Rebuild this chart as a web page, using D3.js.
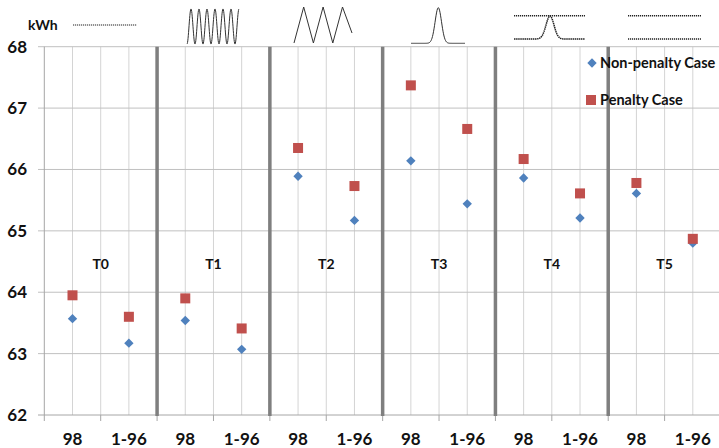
<!DOCTYPE html>
<html>
<head>
<meta charset="utf-8">
<script src="https://cdn.jsdelivr.net/npm/d3@7"></script>
<style>
  body { margin: 0; background: #fff; }
  svg { display: block; font-family: Lato, "Open Sans", sans-serif; }
</style>
</head>
<body>
<svg id="chart" width="719" height="448"></svg>
<script>
// data
const groups = ["T0", "T1", "T2", "T3", "T4", "T5"]
const cases = ["98", "1-96"]
const nonPenalty = [63.57, 63.17, 63.54, 63.07, 65.89, 65.17, 66.14, 65.44, 65.86, 65.21, 65.61, 64.80]
const penalty = [63.95, 63.60, 63.90, 63.41, 66.35, 65.73, 67.37, 66.66, 66.17, 65.61, 65.78, 64.87]
const yTicks = [62, 63, 64, 65, 66, 67, 68]
const seriesNames = ["Non-penalty Case", "Penalty Case"]

const blue = "#4F81BD"
const red = "#C0504D"

const svg = d3.select("#chart")
svg.append("rect").attr("width", 719).attr("height", 448).attr("fill", "#fff")

// one key per category (group + case)
const keys = []
groups.forEach(g => cases.forEach(c => keys.push(g + "|" + c)))

const x = d3.scaleBand().domain(keys).range([44.3, 721]).padding(0)
const y = d3.scaleLinear().domain([62, 68]).range([415, 46.7])
const bw = x.bandwidth()

// vertical light gridlines (band edges + centres)
const vLines = []
keys.forEach(k => { vLines.push(x(k)); vLines.push(x(k) + bw / 2) })
svg.append("g").selectAll("line")
  .data(vLines.slice(1))
  .enter()
  .append("line")
  .attr("x1", d => d).attr("x2", d => d)
  .attr("y1", y(68)).attr("y2", y(62))
  .attr("stroke", "#d4d4d4")
  .attr("stroke-width", 1)

// horizontal gridlines
svg.append("g").selectAll("line")
  .data(yTicks)
  .enter()
  .append("line")
  .attr("x1", 38).attr("x2", 721)
  .attr("y1", d => y(d)).attr("y2", d => y(d))
  .attr("stroke", d => d === 62 ? "#a6a6a6" : "#c0c0c0")
  .attr("stroke-width", 1)

// y axis line
svg.append("line")
  .attr("x1", 44.3).attr("x2", 44.3)
  .attr("y1", y(68)).attr("y2", y(62))
  .attr("stroke", "#a6a6a6")

// x ticks at category edges
svg.append("g").selectAll("line")
  .data(keys)
  .enter()
  .append("line")
  .attr("x1", d => x(d)).attr("x2", d => x(d))
  .attr("y1", y(62)).attr("y2", y(62) + 6)
  .attr("stroke", "#a6a6a6")

// thick separators between groups
svg.append("g").selectAll("line")
  .data(groups.slice(1))
  .enter()
  .append("line")
  .attr("x1", d => x(d + "|" + cases[0])).attr("x2", d => x(d + "|" + cases[0]))
  .attr("y1", y(68)).attr("y2", y(62) + 1)
  .attr("stroke", "#7f7f7f")
  .attr("stroke-width", 3.5)

// y labels
svg.append("g").selectAll("text")
  .data(yTicks)
  .enter()
  .append("text")
  .attr("x", 27)
  .attr("y", d => y(d) + 6)
  .attr("text-anchor", "end")
  .attr("font-size", 17)
  .attr("font-weight", "bold")
  .attr("fill", "#111")
  .text(d => d)

// x labels
svg.append("g").selectAll("text")
  .data(keys)
  .enter()
  .append("text")
  .attr("x", d => x(d) + bw / 2)
  .attr("y", 445)
  .attr("text-anchor", "middle")
  .attr("font-size", 17)
  .attr("font-weight", "bold")
  .attr("fill", "#111")
  .text(d => d.split("|")[1])

// group labels
svg.append("g").selectAll("text")
  .data(groups)
  .enter()
  .append("text")
  .attr("x", d => x(d + "|" + cases[0]) + bw)
  .attr("y", 269)
  .attr("text-anchor", "middle")
  .attr("font-size", 14)
  .attr("font-weight", "bold")
  .attr("fill", "#111")
  .text(d => d)

// markers
const diamond = d3.symbol().type(d3.symbolSquare).size(44)
svg.append("g").selectAll("path")
  .data(nonPenalty)
  .enter()
  .append("path")
  .attr("d", diamond)
  .attr("transform", (d, i) => `translate(${x(keys[i]) + bw / 2},${y(d)}) rotate(45)`)
  .attr("fill", blue)

svg.append("g").selectAll("rect")
  .data(penalty)
  .enter()
  .append("rect")
  .attr("x", (d, i) => x(keys[i]) + bw / 2 - 5)
  .attr("y", d => y(d) - 5)
  .attr("width", 10).attr("height", 10)
  .attr("fill", red)

// legend
const legend = svg.append("g")
legend.append("path")
  .attr("d", diamond)
  .attr("transform", "translate(592,63) rotate(45)")
  .attr("fill", blue)
legend.append("rect")
  .attr("x", 586).attr("y", 95).attr("width", 10).attr("height", 10)
  .attr("fill", red)
legend.selectAll("text")
  .data(seriesNames)
  .enter()
  .append("text")
  .attr("x", 600)
  .attr("y", (d, i) => i ? 105 : 68)
  .attr("font-size", 14.5)
  .attr("font-weight", "bold")
  .attr("fill", "#111")
  .text(d => d)

// little load-profile sketches above each group
svg.append("text")
  .attr("x", 28).attr("y", 30)
  .attr("font-size", 14).attr("font-weight", "bold").attr("fill", "#111")
  .text("kWh")

const line = d3.line()
const icons = svg.append("g").attr("fill", "none").attr("stroke", "#222")
const dotted = (x0, x1, yy, w) => icons.append("path")
  .attr("d", line([[x0, yy], [x1, yy]]))
  .attr("stroke-width", w).attr("stroke-dasharray", "1.2,0.8")

dotted(73, 137, 25, 1.1)

// T1: fast oscillation
icons.append("path")
  .attr("d", line(d3.range(0, 1.0001, 0.005).map(t => [187 + t * 52, 26.5 + 17.5 * Math.cos(Math.PI * 2 * 6.5 * t)])))
  .attr("stroke-width", 1).attr("stroke", "#333")

// T2: triangle wave
icons.append("path")
  .attr("d", line(d3.range(0, 7).map(i => [294 + i * 9.7, i % 2 ? 7 : 43]).map((p, i) => i === 6 ? [352, 33] : p)))
  .attr("stroke-width", 1).attr("stroke", "#333")

// T3: single peak
const bump = (x0, x1, c, base, top, s) => d3.range(x0, x1 + 0.01, 0.5)
  .map(v => [v, base - (base - top) * Math.exp(-((v - c) ** 2) / (2 * s * s))])
icons.append("path")
  .attr("d", line(bump(411, 465, 438.3, 43.3, 7.7, 3.2)))
  .attr("stroke-width", 1).attr("stroke", "#333")

// T4: flat top with a bump from the base
dotted(514, 585, 15.7, 1.6)
icons.append("path")
  .attr("d", line(bump(514, 585, 550, 39, 16, 4)))
  .attr("stroke-width", 1.5).attr("stroke-dasharray", "1.5,0.6")

// T5: two flat lines
dotted(628, 701, 15.7, 1.6)
dotted(628, 701, 39, 1.6)
</script>
</body>
</html>
